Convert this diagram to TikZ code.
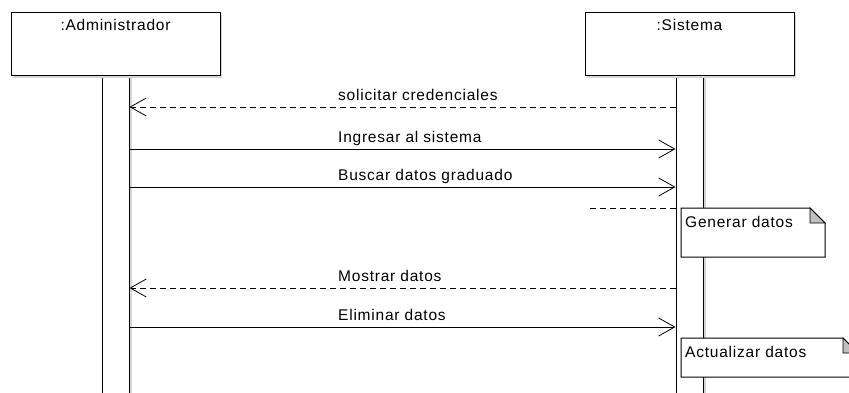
\documentclass[tikz,border=0pt]{standalone}
\usepackage{fontspec}
\setmainfont{Liberation Sans}[LetterSpace=5]
\usetikzlibrary{arrows.meta,shadows}
\definecolor{Fold}{HTML}{C0C0C0}
\definecolor{Shade}{HTML}{D6D6D6}
\begin{document}
\begin{tikzpicture}[x=1pt,y=-1pt,
  lifebox/.style={draw,line width=1pt,fill=white,minimum width=209pt,minimum height=63pt,inner sep=0pt,drop shadow={shadow xshift=2pt,shadow yshift=-2pt,fill=Shade,opacity=1}},
  actbar/.style={draw,line width=1pt,fill=white,minimum width=27pt,minimum height=340pt,inner sep=0pt,anchor=north,drop shadow={shadow xshift=2.5pt,shadow yshift=0pt,fill=Shade,opacity=1}},
  title/.style={anchor=base,inner sep=0pt,font=\fontsize{15.5}{18}\selectfont},
  lbl/.style={anchor=base west,inner sep=0pt,font=\fontsize{15.5}{18}\selectfont},
  msg/.style={line width=0.9pt,-{Straight Barb[length=16pt,width=18pt,line width=0.8pt]}},
  reply/.style={msg,dash pattern=on 6pt off 4pt},
  note/.style={draw,line width=1pt,fill=white},
  fold/.style={draw,line width=0.8pt,fill=Fold}]
\fill[white] (0,0) rectangle (849,393);
\useasboundingbox (0,0) rectangle (849,393);
% lifelines
\node[actbar] (admbar) at (115.5,76) {};
\node[actbar] (sisbar) at (689.5,76) {};
\node[lifebox] (adm) at (115.5,44.5) {};
\node[lifebox] (sis) at (689.5,44.5) {};
\node[title] at ([yshift=-18.5pt]adm.north) {:Administrador};
\node[title] at ([yshift=-18.5pt]sis.north) {:Sistema};
% messages
\foreach \y/\t in {149/Ingresar al sistema,187/Buscar datos graduado,327/Eliminar datos} {\draw[msg] (admbar.east |- 0,\y) -- (sisbar.west |- 0,\y); \node[lbl] at (338,\y-6.5) {\t};}
\foreach \y/\t in {107/solicitar credenciales,288/Mostrar datos} {\draw[reply] (sisbar.west |- 0,\y) -- (admbar.east |- 0,\y); \node[lbl] at (338,\y-6.5) {\t};}
% notes
\coordinate (stub) at (590,208);
\draw[line width=0.9pt,dash pattern=on 6pt off 4pt] (stub) -- (sisbar.west |- stub);
\foreach \n/\y/\w/\h/\t in {gen/208/144/49/Generar datos,act/338/177/39/Actualizar datos} {\coordinate (\n) at (681,\y); \draw[note] (\n) -- ++(\w-15,0) -- ++(15,15) -- ++(0,\h-15) -- ++(-\w,0) -- cycle; \filldraw[fold] (\n) ++(\w-15,0) -- ++(0,15) -- ++(15,0) -- cycle; \node[lbl] at ([xshift=4pt,yshift=-19pt]\n) {\t};}
\end{tikzpicture}
\end{document}
